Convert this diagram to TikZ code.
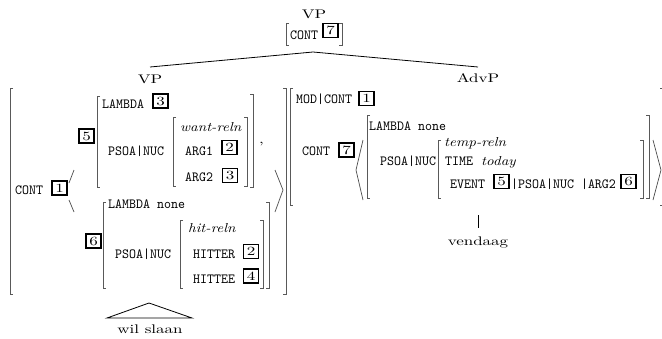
\documentclass[tikz,border=0pt]{standalone}
\usepackage{graphicx}
\newcommand\RM[1]{\scalebox{1.7}[1.25]{#1}}
\newcommand\IT[1]{\scalebox{1.5}[1.3]{\itshape #1}}
\newcommand\TT[1]{\scalebox{1.33}[1.4]{\ttfamily #1}}
\newcommand\lbr[3]{\draw[brk] (#1+3,#2) -- (#1,#2) -- (#1,#3) -- (#1+3,#3);}
\newcommand\rbr[3]{\draw[brk] (#1-3,#2) -- (#1,#2) -- (#1,#3) -- (#1-3,#3);}
\begin{document}
\begin{tikzpicture}[x=1pt,y=-1pt,
  txt/.style={inner sep=0pt,anchor=base west},
  ctr/.style={inner sep=0pt,anchor=base},
  tag/.style={draw,line width=1.4pt,minimum width=15pt,minimum height=14pt,inner sep=0pt},
  brk/.style={draw=black!65,line width=0.7pt},
  ang/.style={draw=black!70,line width=0.7pt},
  tree/.style={draw=black,line width=0.8pt}]
\useasboundingbox (0,0) rectangle (662,338);
% top
\node[ctr] (vp0) at (314,18) {\RM{VP}};
\lbr{286}{23}{45}
\rbr{342}{23}{45}
\node[txt] (cont0) at (290,39) {\TT{CONT}};
\node[tag] (t7top) at (330.5,30.5) {\RM{7}};
\coordinate (apex) at (313,52);
\node[ctr] (vpL) at (150,83) {\RM{VP}};
\node[ctr] (advp) at (478,82) {\RM{AdvP}};
\coordinate (vpLtop) at (150,67);
\coordinate (advptop) at (478,67);
\draw[tree] (vpLtop) -- (apex) -- (advptop);
% left AVM
\lbr{10}{88}{294}
\rbr{286}{88}{294}
\node[txt] (contL) at (15,194) {\TT{CONT}};
\node[tag] (t1L) at (59.5,188) {\RM{1}};
\draw[ang] (74,170) -- (69,183);
\draw[ang] (69,200) -- (74,212);
\node[tag] (t5L) at (86.5,136) {\RM{5}};
\lbr{97}{96}{187}
\rbr{253}{94}{187}
\node[txt] (lamL) at (102,108) {\TT{LAMBDA}};
\node[tag] (t3a) at (160.5,101) {\RM{3}};
\node[txt] (psoaL) at (108,155) {\TT{PSOA|NUC}};
\lbr{173}{117}{186}
\rbr{247}{117}{186}
\node[txt] (want) at (180,131) {\IT{want-reln}};
\node[txt] (arg1) at (185,155) {\TT{ARG1}};
\node[tag] (t2a) at (229.5,147.5) {\RM{2}};
\node[txt] (arg2) at (185,181) {\TT{ARG2}};
\node[tag] (t3b) at (230,175.5) {\RM{3}};
\node[txt] (comma) at (259,143) {\RM{,}};
\draw[ang] (275,170) -- (283,190) -- (275,212);
\node[tag] (t6L) at (93.5,241) {\RM{6}};
\lbr{103}{202}{288}
\rbr{269}{202}{288}
\node[txt] (lamN) at (108,208) {\TT{LAMBDA none}};
\node[txt] (psoaH) at (115,258) {\TT{PSOA|NUC}};
\lbr{180}{220}{288}
\rbr{263}{220}{288}
\node[txt] (hit) at (188,232) {\IT{hit-reln}};
\node[txt] (hitter) at (193,258) {\TT{HITTER}};
\node[tag] (t2b) at (251,251.5) {\RM{2}};
\node[txt] (hittee) at (193,283) {\TT{HITTEE}};
\node[tag] (t4) at (251,276) {\RM{4}};
\coordinate (triA) at (149,303);
\coordinate (triB) at (107,318);
\coordinate (triC) at (192,318);
\draw[tree] (triB) -- (triA) -- (triC) -- cycle;
\node[ctr] (wil) at (150,333) {\RM{wil slaan}};
% right AVM
\lbr{290}{88}{205}
\rbr{663}{88}{205}
\node[txt] (modc) at (296,103) {\TT{MOD|CONT}};
\node[tag] (t1R) at (366.5,98.5) {\RM{1}};
\node[txt] (contR) at (302,155) {\TT{CONT}};
\node[tag] (t7R) at (346.5,150) {\RM{7}};
\draw[ang] (363,140) -- (356,170) -- (363,200);
\lbr{367}{115}{198}
\rbr{649}{115}{198}
\node[txt] (lamR) at (369,130) {\TT{LAMBDA none}};
\node[txt] (psoaR) at (380,165) {\TT{PSOA|NUC}};
\lbr{438}{140}{198}
\rbr{643}{140}{198}
\node[txt] (temp) at (444,146) {\IT{temp-reln}};
\node[txt] (time) at (445,165) {\TT{TIME}};
\node[txt] (today) at (481,165) {\IT{today}};
\node[txt] (event) at (450,188) {\TT{EVENT}};
\node[tag] (t5R) at (501.5,181.5) {\RM{5}};
\node[txt] (path) at (511,188) {\TT{|PSOA|NUC |ARG2}};
\node[tag] (t6R) at (628.5,181.5) {\RM{6}};
\draw[ang] (653,140) -- (661,170) -- (653,200);
\coordinate (vtop) at (478,215);
\coordinate (vbot) at (478,228);
\draw[tree] (vtop) -- (vbot);
\node[ctr] (vend) at (478,245) {\RM{vendaag}};
\end{tikzpicture}
\end{document}
